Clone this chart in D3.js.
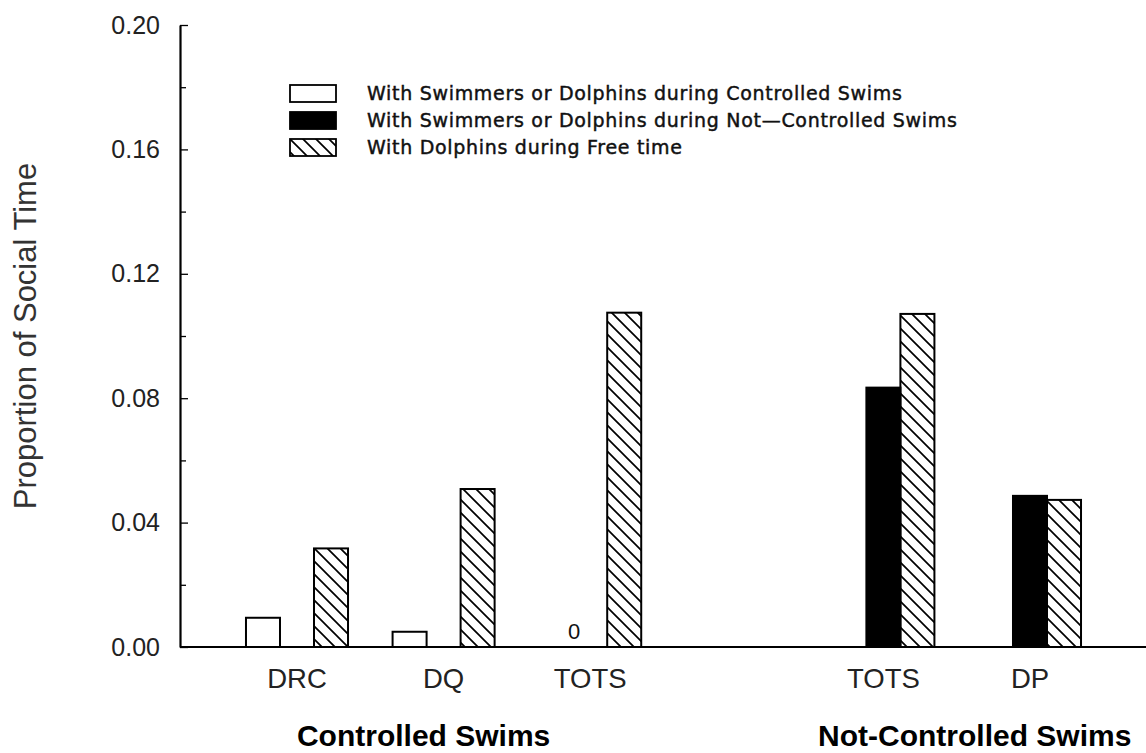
<!DOCTYPE html>
<html><head><meta charset="utf-8">
<script src="https://cdn.jsdelivr.net/npm/d3@7"></script>
<style>body{margin:0;background:#fff}</style>
</head><body><svg id="c" width="1146" height="753"></svg>
<script>
// ---- data ----
const groupKeys = ["DRC", "DQ", "TOTS-C", "gap", "TOTS-NC", "DP"];
const groupLabels = ["DRC", "DQ", "TOTS", "", "TOTS", "DP"];
const seriesNames = [
  "With Swimmers or Dolphins during Controlled Swims",
  "With Swimmers or Dolphins during Not\u2014Controlled Swims",
  "With Dolphins during Free time"
];
const controlledValues    = [0.0094, 0.0049, 0,    null, null,   null];
const notControlledValues = [null,   null,   null, null, 0.0834, 0.0486];
const freeTimeValues      = [0.0317, 0.0508, 0.1075, null, 0.1071, 0.0473];
const yTicks = [0, 0.04, 0.08, 0.12, 0.16, 0.20];
const yMinorTicks = [0.02, 0.06, 0.10, 0.14, 0.18];
const sectionLabels = ["Controlled Swims", "Not-Controlled Swims"];
const yTitle = "Proportion of Social Time";

// ---- layout ----
const W = 1146, H = 753;
const svg = d3.select("#c");
const defs = svg.append("defs");
const pat = defs.append("pattern").attr("id", "hatch")
  .attr("patternUnits", "userSpaceOnUse").attr("width", 13).attr("height", 13);
pat.append("path").attr("d", "M0,0L13,13M-2,11L2,15M11,-2L15,2")
  .attr("stroke", "#000").attr("stroke-width", 1.7).attr("fill", "none");

const axisX = 180;
const y = d3.scaleLinear().domain([0, 0.2]).range([647, 25]);
const x = d3.scaleBand().domain(groupKeys).range([223.7, 1103.3]).padding(0);
const bw = x.bandwidth();
const x1 = d3.scaleBand().domain([0, 1, 2]).range([bw * 0.152, bw * 0.848]).padding(0);

const fills = ["#fff", "#000", "url(#hatch)"];
const seriesVals = [controlledValues, notControlledValues, freeTimeValues];

// bars
seriesVals.forEach((vals, si) => {
  const data = groupKeys.map((k, i) => ({k, v: vals[i]})).filter(d => d.v != null && d.v > 0);
  svg.append("g").selectAll("rect").data(data).join("rect")
    .attr("x", d => x(d.k) + x1(si))
    .attr("y", d => y(d.v))
    .attr("width", x1.bandwidth())
    .attr("height", d => y(0) - y(d.v))
    .attr("fill", fills[si])
    .attr("stroke", "#000").attr("stroke-width", 2);
});

// zero label for the controlled TOTS white bar
groupKeys.forEach((k, i) => {
  if (controlledValues[i] === 0) {
    svg.append("text")
      .attr("x", x(k) + x1(1) + 1).attr("y", y(0) - 8)
      .attr("text-anchor", "middle")
      .attr("font-family", "Liberation Sans, Arial, sans-serif")
      .attr("font-size", 22).attr("fill", "#111").text("0");
  }
});

// baseline
svg.append("line").attr("x1", axisX).attr("x2", W).attr("y1", y(0)).attr("y2", y(0))
  .attr("stroke", "#000").attr("stroke-width", 2);

// y axis
const yAxis = svg.append("g").attr("transform", `translate(${axisX},0)`)
  .call(d3.axisLeft(y).tickValues(yTicks).tickFormat(d3.format(".2f"))
    .tickSizeInner(-8).tickSizeOuter(0).tickPadding(20));
yAxis.select(".domain").attr("stroke-width", 2.2);
yAxis.selectAll(".tick line").attr("stroke-width", 1.3);
yAxis.selectAll("text").attr("font-family", "Liberation Sans, Arial, sans-serif")
  .attr("font-size", 25).attr("fill", "#222");
const yMinor = svg.append("g").attr("transform", `translate(${axisX},0)`)
  .call(d3.axisLeft(y).tickValues(yMinorTicks).tickFormat("").tickSizeInner(-6).tickSizeOuter(0));
yMinor.select(".domain").remove();
yMinor.selectAll(".tick line").attr("stroke-width", 1.3);

// x axis labels
const xAxis = svg.append("g").attr("transform", `translate(0,${y(0)})`)
  .call(d3.axisBottom(x).tickSize(0).tickPadding(21)
    .tickFormat((d, i) => groupLabels[i]));
xAxis.select(".domain").remove();
xAxis.selectAll("text").attr("font-family", "Liberation Sans, Arial, sans-serif")
  .attr("font-size", 27.5).attr("fill", "#222");

// y title
svg.append("text").attr("transform", `translate(36,${(y(0) + y(0.2)) / 2}) rotate(-90)`)
  .attr("text-anchor", "middle")
  .attr("font-family", "Liberation Sans, Arial, sans-serif")
  .attr("font-size", 31).attr("fill", "#333").text(yTitle);

// section labels
const sec = [
  {t: sectionLabels[0], cx: x("DQ") + bw / 2 - 20},
  {t: sectionLabels[1], cx: (x("TOTS-NC") + x("DP") + bw) / 2 + 18}
];
svg.append("g").selectAll("text").data(sec).join("text")
  .attr("x", d => d.cx).attr("y", 746).attr("text-anchor", "middle")
  .attr("font-family", "Liberation Sans, Arial, sans-serif")
  .attr("font-weight", "bold").attr("font-size", 30).attr("fill", "#000")
  .text(d => d.t);

// legend
const legend = svg.append("g").attr("transform", "translate(290,85)");
seriesNames.forEach((s, i) => {
  const g = legend.append("g").attr("transform", `translate(0,${i * 27})`);
  g.append("rect").attr("width", 46).attr("height", 17)
    .attr("fill", fills[i]).attr("stroke", "#000").attr("stroke-width", 1.8);
  g.append("text").attr("x", 77).attr("y", 15)
    .attr("font-family", "DejaVu Sans, sans-serif")
    .attr("font-size", 19).attr("letter-spacing", 0.7).attr("fill", "#111")
    .attr("stroke", "#111").attr("stroke-width", 0.45).text(s);
});
</script></body></html>
